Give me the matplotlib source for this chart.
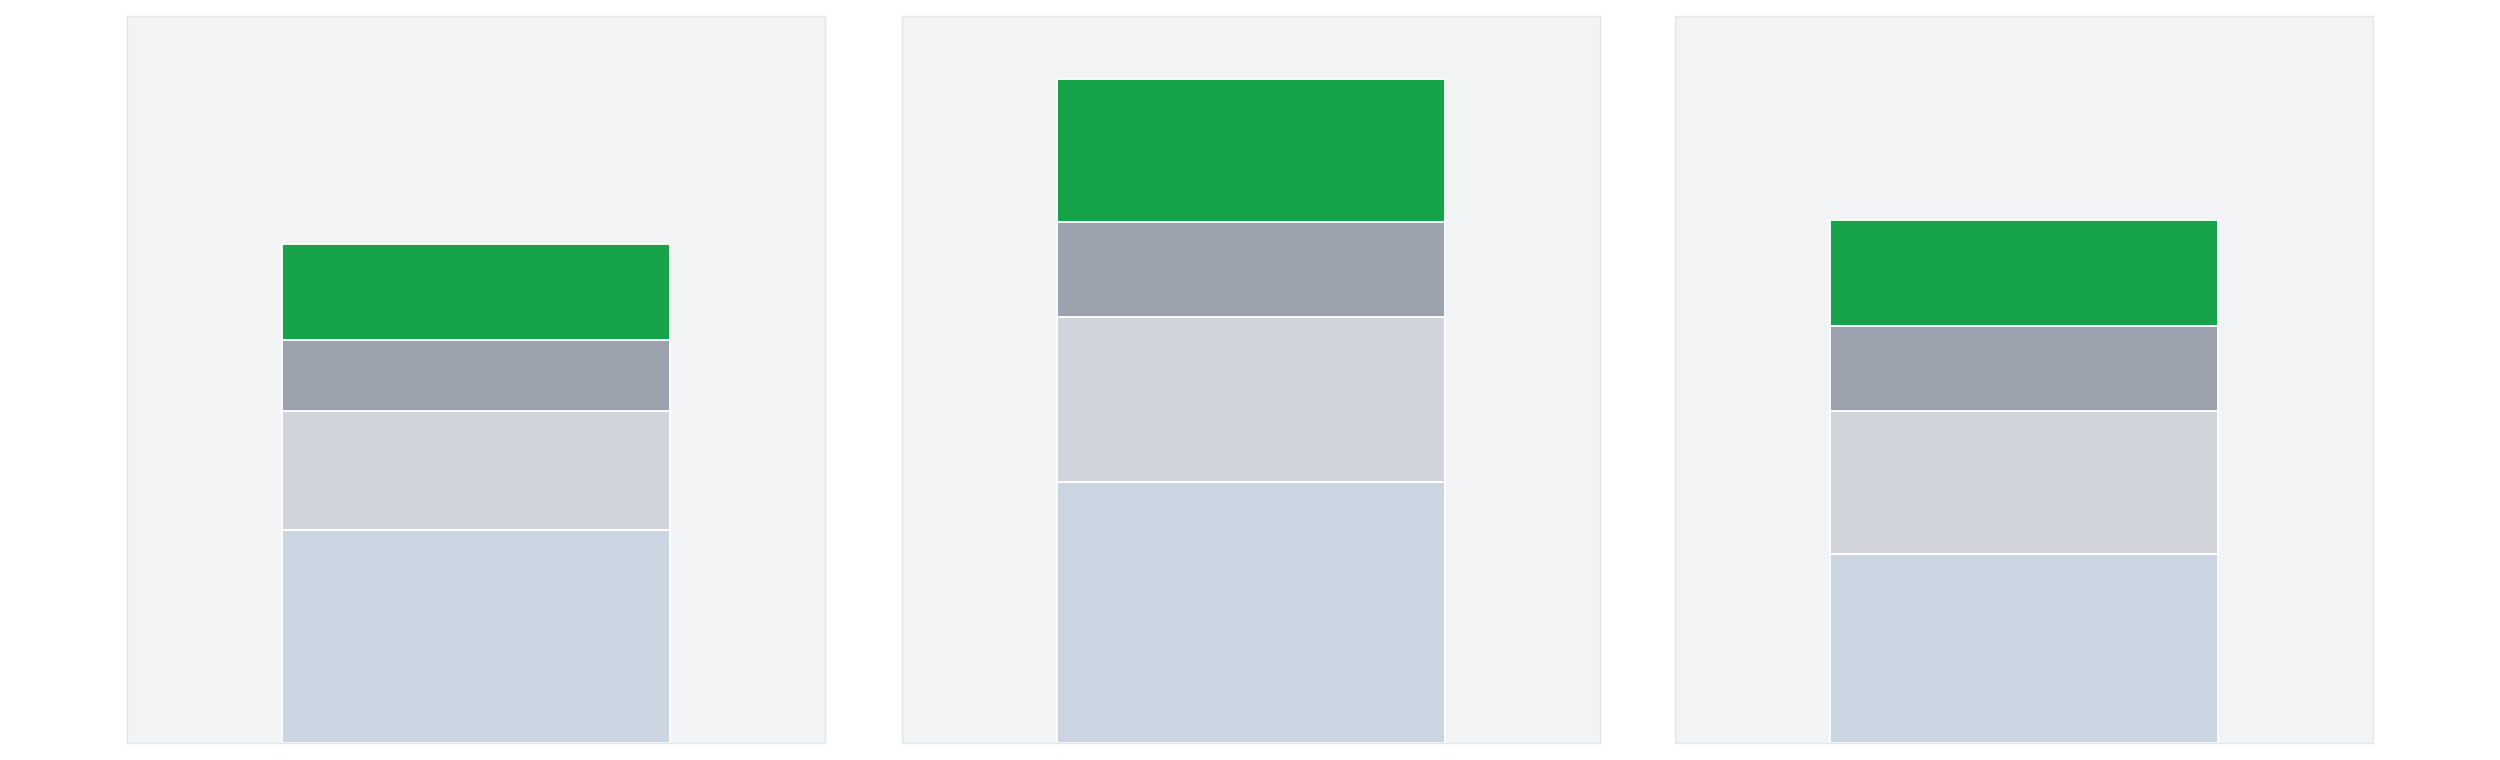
import matplotlib
matplotlib.use("Agg")
import matplotlib.pyplot as plt

# stacked segment values per panel (bottom -> top)
panels = ["A", "B", "C"]
base = [29.3, 35.9, 26.0]
light = [16.4, 22.7, 19.7]
mid = [9.8, 13.1, 11.6]
top = [13.1, 19.7, 14.6]

colors = ["#cbd5e1", "#d1d5db", "#9ca3af", "#16a34a"]


def main():
    fig = plt.figure(figsize=(25, 7.6), dpi=100)
    lefts = [127, 902, 1675]
    for i, name in enumerate(panels):
        ax = fig.add_axes([lefts[i] / 2500, 17 / 760, 698 / 2500, 727 / 760])
        ax.set_facecolor("#f2f3f5")
        bottom = 0
        for seg, c in zip([base[i], light[i], mid[i], top[i]], colors):
            ax.bar(0, seg, width=1, bottom=bottom, color=c,
                   edgecolor="white", linewidth=1.3)
            bottom += seg
        ax.set_xlim(-0.9, 0.9)
        ax.set_ylim(0, 100)
        ax.set_xticks([])
        ax.set_yticks([])
        for s in ax.spines.values():
            s.set_color("#e3e5e9")
            s.set_linewidth(1.0)
    fig.savefig("out.png", dpi=100, facecolor="white")


if __name__ == "__main__":
    main()
